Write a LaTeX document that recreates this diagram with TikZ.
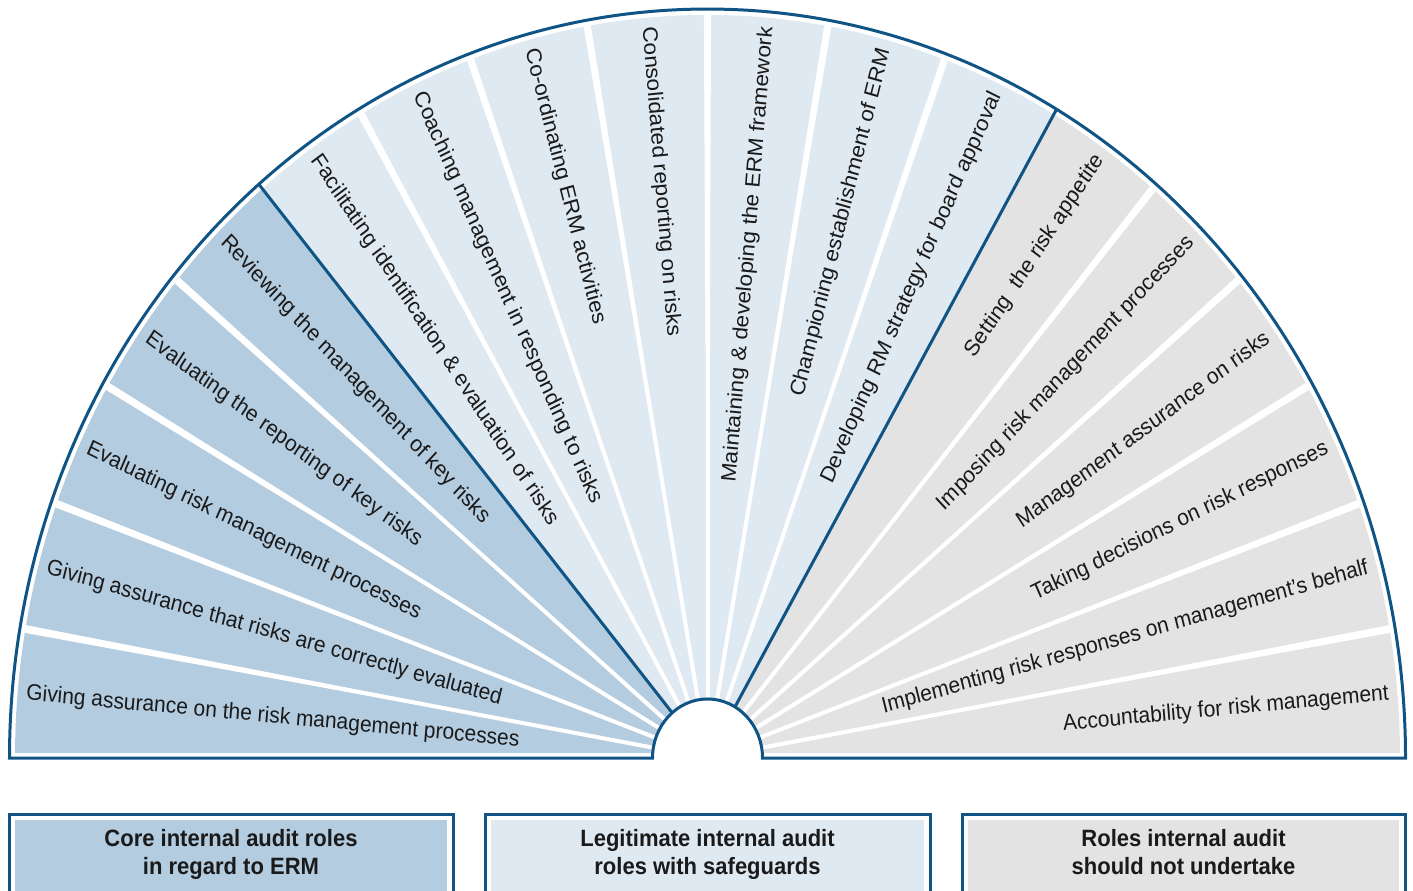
\documentclass[tikz,border=0pt]{standalone}
\usepackage{fontspec}
\setmainfont{Liberation Sans}
\definecolor{coreblue}{HTML}{B4CCE0}
\definecolor{legitblue}{HTML}{DFE9F1}
\definecolor{notgrey}{HTML}{E3E3E3}
\definecolor{rimblue}{HTML}{0F5485}
\definecolor{txtcol}{HTML}{1A1A1A}
\begin{document}
\begin{tikzpicture}[x=1bp,y=1bp,
  fantext/.style={inner sep=0pt, text=txtcol, transform shape, font=\fontsize{21bp}{25bp}\selectfont},
  boxtext/.style={inner sep=0pt, text=txtcol, align=center, yscale=1.073, font=\fontsize{22bp}{26bp}\selectfont\bfseries},
  rim/.style={draw=rimblue, line width=3bp},
  sep/.style={white, line width=4bp}]
\clip (0,0) rectangle (1413,890);
\begin{scope}[shift={(707.5,132)}, yscale=1.073]
  \begin{scope}
    \clip (-700,4.7) rectangle (700,700);
    \clip (0,0) circle (692.5);
    \fill[coreblue] (0,0) -- (130:750) arc[start angle=130, end angle=185, radius=750] -- cycle;
    \fill[legitblue] (0,0) -- (60:750) arc[start angle=60, end angle=130, radius=750] -- cycle;
    \fill[notgrey] (0,0) -- (-5:750) arc[start angle=-5, end angle=60, radius=750] -- cycle;
    \foreach \a in {10,20,30,40,50,70,80,90,100,110,120,140,150,160,170} {
      \fill[white] (0,0) -- (\a-0.3:750) -- (\a+0.3:750) -- cycle;
      \draw[sep] (0,0) -- (\a:750);
    }
  \end{scope}
  \fill[white] (-55,0) arc[start angle=180, end angle=0, radius=55] -- cycle;
  \draw[rim] (60:55) -- (60:698);
  \draw[rim] (130:55) -- (130:698);
  \draw[rim] (-55,0) -- (-698,0) arc[start angle=180, end angle=0, radius=698] -- (55,0) arc[start angle=0, end angle=180, radius=55] -- cycle;
  % labels on the left half: read from the rim toward the centre
  \foreach \a/\t in {175/{Giving assurance on the risk management processes},
                     165/{Giving assurance that risks are correctly evaluated},
                     155/{Evaluating risk management processes},
                     145/{Evaluating the reporting of key risks},
                     135/{Reviewing the management of key risks},
                     125/{Facilitating identification \& evaluation of risks},
                     115/{Coaching management in responding to risks},
                     105/{Co-ordinating ERM activities},
                     95/{Consolidated reporting on risks}} {
    \node[fantext, anchor=west, rotate=\a+180] (lab\a) at (\a:684) {\t};
  }
  % labels on the right half: read from the centre toward the rim
  \foreach \a/\t in {85/{Maintaining \& developing the ERM framework},
                     75/{Championing establishment of ERM},
                     65/{Developing RM strategy for board approval},
                     55/{Setting\ \ the risk appetite},
                     45/{Imposing risk management processes},
                     35/{Management assurance on risks},
                     25/{Taking decisions on risk responses},
                     15/{Implementing risk responses on management's behalf},
                     5/{Accountability for risk management}} {
    \node[fantext, anchor=east, rotate=\a] (lab\a) at (\a:684) {\t};
  }
\end{scope}
% legend boxes
\draw[rim] (9,76) rectangle (453,-20);
\fill[coreblue] (15,70) rectangle (447,-20);
\draw[rim] (485,76) rectangle (930,-20);
\fill[legitblue] (491,70) rectangle (924,-20);
\draw[rim] (962,76) rectangle (1405,-20);
\fill[notgrey] (968,70) rectangle (1399,-20);
\node[boxtext, anchor=base] (core) at (231,16) {Core internal audit roles\\in regard to ERM};
\node[boxtext, anchor=base] (legit) at (707.5,16) {Legitimate internal audit\\roles with safeguards};
\node[boxtext, anchor=base] (notdo) at (1183.5,16) {Roles internal audit\\should not undertake};
\end{tikzpicture}
\end{document}
